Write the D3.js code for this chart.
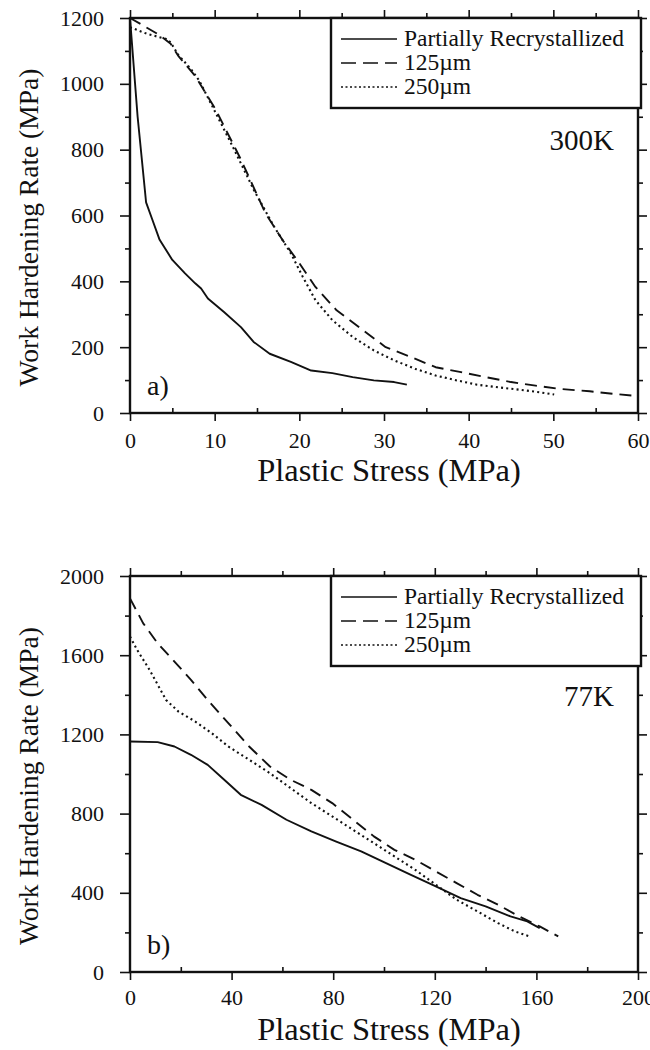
<!DOCTYPE html>
<html>
<head>
<meta charset="utf-8">
<script src="https://cdn.jsdelivr.net/npm/d3@7"></script>
<style>
  body { margin: 0; background: #fff; }
  svg, svg text { font-family: "Liberation Serif", "Times New Roman", serif !important; fill: #111; }
</style>
</head>
<body>
<div id="chartDiv"></div>
<script>
// DATA
// a) 300K : [plastic stress MPa, work hardening rate MPa]
var partial300 = [[0,1200],[0.9,900],[1.9,640],[2.6,590],[3.5,526],[5,465],[6.5,424],[7.7,394],[8.4,378],[9.2,348],
  [11.1,307],[13.1,261],[14.6,216],[16.5,180],[19,155],[21.4,129],[23.9,121],[26.3,109],[28.8,99],[31.2,94],[32.7,86]];
var um125_300 = [[0,1200],[1.5,1178],[3.5,1148],[4.8,1122],[5.7,1085],[7.7,1024],[10.1,923],[13.1,770],[16,607],
  [18,526],[20,455],[21.9,383],[24.4,312],[27.3,256],[30.2,200],[33.2,170],[36.1,139],[39.1,124],[42,109],
  [45,94],[47.9,83],[50.8,73],[54.3,66],[57.2,58],[60,51]];
var um250_300 = [[0,1172],[2,1152],[4.3,1136],[4.8,1126],[5.7,1088],[7.2,1045],[8.2,1009],[9.7,933],[12.1,811],
  [14.6,679],[17,567],[19,485],[20.4,414],[21.9,343],[23.9,282],[26.3,231],[28.8,190],[31.2,160],[33.7,134],
  [36.1,114],[38.6,99],[41,86],[43.5,78],[45.9,71],[48.4,63],[50.1,56]];

// b) 77K
var partial77 = [[0,1164],[10.9,1161],[17.5,1139],[24,1097],[30.6,1046],[37.1,971],[43.6,895],[51.8,844],
  [61.6,769],[71.4,710],[81.2,659],[91,609],[100.8,550],[110.6,491],[120.4,432],[130.2,373],[140,331],
  [149.8,281],[156.4,256],[161.3,222]];
var um125_77 = [[0,1887],[5.2,1761],[10.9,1660],[17.5,1568],[24,1475],[30.6,1374],[38.7,1257],[46.9,1139],
  [55.1,1038],[63.2,971],[71.4,920],[79.6,853],[87.8,769],[96,685],[104.1,617],[112.3,567],[120.4,508],
  [128.6,449],[136.8,390],[144.9,340],[153.1,281],[161.3,230],[168.6,180]];
var um250_77 = [[0,1694],[2.8,1627],[7.7,1526],[14.2,1374],[19.1,1315],[25.7,1265],[32.2,1206],[38.7,1139],
  [46.9,1072],[55.1,1004],[63.2,929],[71.4,853],[79.6,786],[87.8,718],[96,651],[104.1,584],[112.3,516],
  [120.4,441],[128.6,365],[136.8,306],[144.9,247],[151.5,205],[157.2,180]];

var seriesNames = ['Partially Recrystallized', '125\u00b5m', '250\u00b5m'];

// ticks
var xMajor300 = [0,10,20,30,40,50,60], xMinor300 = [5,15,25,35,45,55];
var yMajor300 = [0,200,400,600,800,1000,1200], yMinor300 = [100,300,500,700,900,1100];
var xMajor77 = [0,40,80,120,160,200], xMinor77 = [20,60,100,140,180];
var yMajor77 = [0,400,800,1200,1600,2000], yMinor77 = [200,600,1000,1400,1800];

var xTitle = 'Plastic Stress (MPa)', yTitle = 'Work Hardening Rate (MPa)';

//line styles per series
var dashes = [null, '12,7', '2,3.2'];
var serif = '"Liberation Serif", "Times New Roman", serif';

var svg = d3.select('#chartDiv').append('svg')
  .attr('width', 650)
  .attr('height', 1050)
  .attr('font-family', serif);

function drawPanel(p) {
  var left = 130, right = 638;
  var x = d3.scaleLinear().domain([p.xMajor[0], p.xMajor[p.xMajor.length-1]]).range([left, right]);
  var y = d3.scaleLinear().domain([p.yMajor[0], p.yMajor[p.yMajor.length-1]]).range([p.bottom, p.top]);

  var g = svg.append('g');

  // axes (ticks only, the frame is a rect)
  function ax(axis, tr, vals, size, labels, pad) {
    var a = g.append('g')
      .attr('transform', tr)
      .call(axis.tickValues(vals).tickSize(size).tickPadding(pad || 3)
        .tickFormat(labels ? d3.format('d') : ''));
    a.attr('font-family', serif).attr('font-size', 22);
    a.select('.domain').remove();
    a.selectAll('line').attr('stroke', '#111').attr('stroke-width', 1.6);
    a.selectAll('text').attr('fill', '#111');
    return a;
  }
  ax(d3.axisLeft(y), 'translate('+left+',0)', p.yMajor, 10, true, 16);
  ax(d3.axisLeft(y), 'translate('+left+',0)', p.yMinor, 5, false);
  ax(d3.axisRight(y), 'translate('+right+',0)', p.yMajor, 9, false);
  ax(d3.axisRight(y), 'translate('+right+',0)', p.yMinor, 5, false);
  ax(d3.axisBottom(x), 'translate(0,'+p.bottom+')', p.xMajor, 8, true, p.xPad);
  ax(d3.axisTop(x), 'translate(0,'+p.bottom+')', p.xMinor, 5, false);
  ax(d3.axisTop(x), 'translate(0,'+p.top+')', p.xMajor, 8, false);
  ax(d3.axisTop(x), 'translate(0,'+p.top+')', p.xMinor, 5, false);

  g.append('rect')
    .attr('x', left).attr('y', p.top)
    .attr('width', right-left).attr('height', p.bottom-p.top)
    .attr('fill', 'none').attr('stroke', '#111').attr('stroke-width', 2.4);

  var line = d3.line()
    .x(function(d) { return x(d[0]); })
    .y(function(d) { return y(d[1]); })
    .curve(d3.curveLinear);

  p.series.forEach(function(s, i) {
    g.append('path')
      .datum(s)
      .attr('d', line)
      .attr('fill', 'none')
      .attr('stroke', '#111')
      .attr('stroke-width', i == 2 ? 2.1 : 1.9)
      .attr('stroke-linejoin', 'round')
      .attr('stroke-dasharray', dashes[i]);
  });

  // legend
  var lg = g.append('g').attr('transform', 'translate(331,'+p.top+')');
  lg.append('rect')
    .attr('width', 310).attr('height', 90)
    .attr('fill', '#fff').attr('stroke', '#111').attr('stroke-width', 2.4);
  seriesNames.forEach(function(name, i) {
    var by = 28 + i*24;
    lg.append('line')
      .attr('x1', 10).attr('x2', 66)
      .attr('y1', by-7).attr('y2', by-7)
      .attr('stroke', '#111').attr('stroke-width', 1.6)
      .attr('stroke-dasharray', i == 1 ? '15,7' : (i == 2 ? '2,2.5' : null));
    lg.append('text')
      .attr('x', 73).attr('y', by)
      .attr('font-size', 23.5)
      .text(name);
  });

  g.append('text')
    .attr('x', 614).attr('y', p.tempY)
    .attr('text-anchor', 'end')
    .attr('font-size', 29)
    .text(p.temp);

  g.append('text')
    .attr('x', 147).attr('y', p.bottom-18)
    .attr('font-size', 28)
    .text(p.label);

  g.append('text')
    .attr('x', (left+right)/2 + 5).attr('y', p.bottom+68)
    .attr('text-anchor', 'middle')
    .attr('font-size', 32.5)
    .text(xTitle);

  g.append('text')
    .attr('transform', 'translate(38,'+((p.top+p.bottom)/2 + 12)+') rotate(-90)')
    .attr('text-anchor', 'middle')
    .attr('font-size', 27.5)
    .text(yTitle);
}

drawPanel({ top: 18, bottom: 413, xMajor: xMajor300, xMinor: xMinor300, yMajor: yMajor300, yMinor: yMinor300,
  series: [partial300, um125_300, um250_300], temp: '300K', tempY: 150, label: 'a)', xPad: 11 });
drawPanel({ top: 576, bottom: 972, xMajor: xMajor77, xMinor: xMinor77, yMajor: yMajor77, yMinor: yMinor77,
  series: [partial77, um125_77, um250_77], temp: '77K', tempY: 706, label: 'b)', xPad: 9 });
</script>
</body>
</html>
